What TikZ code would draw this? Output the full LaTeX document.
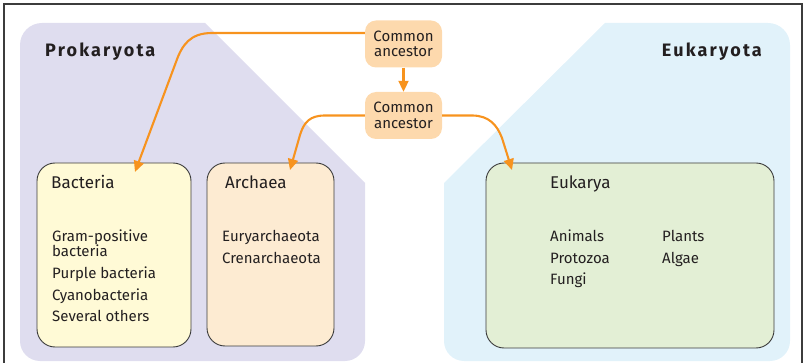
\documentclass[tikz,border=0pt]{standalone}
\usepackage{fontspec}
\setmainfont{Fira Sans}
\usetikzlibrary{arrows.meta}
\definecolor{purplebg}{HTML}{DFDDEF}
\definecolor{bluebg}{HTML}{E1F2FA}
\definecolor{bactfill}{HTML}{FFFAD6}
\definecolor{archfill}{HTML}{FDEBD2}
\definecolor{eukfill}{HTML}{E3EFD5}
\definecolor{ancfill}{HTML}{FDD9AD}
\definecolor{arrorange}{HTML}{F7931E}
\definecolor{txt}{HTML}{231F20}
\definecolor{framecol}{HTML}{3C3C3C}
\tikzset{
  groupbox/.style={draw=framecol, line width=0.9pt, rounded corners=18pt, inner sep=0pt},
  ancbox/.style={fill=ancfill, rounded corners=11pt, minimum width=77pt, minimum height=47pt, inner sep=0pt, align=center, font=\fontsize{15}{15.5}\selectfont, text=txt},
  boxtitle/.style={anchor=base west, inner sep=0pt, font=\fontsize{17}{17}\selectfont, text=txt},
  itemtext/.style={anchor=base west, inner sep=0pt, font=\fontsize{15}{15}\selectfont, text=txt},
  domtitle/.style={inner sep=0pt, text=txt, font=\fontsize{18}{18}\selectfont\bfseries\addfontfeatures{LetterSpace=12}},
  arr/.style={draw=arrorange, line width=2.1pt, -{Triangle[length=11pt,width=10pt]}},
}
\begin{document}
\begin{tikzpicture}[x=1pt,y=-1pt]
\useasboundingbox (0,0) rectangle (806,363);
% frame
\draw[framecol, line width=1.6pt] (4,370) -- (4,4) -- (802,4) -- (802,370);
% domain backgrounds
\fill[purplebg] (20,200) [rounded corners=22pt] -- (20,23) -- (110,23) [sharp corners] -- (205,23) -- (365,183) -- (365,280) [rounded corners=20pt] -- (365,361) -- (20,361) -- (20,200) -- cycle;
\fill[bluebg] (790,200) [rounded corners=22pt] -- (790,23) -- (700,23) [sharp corners] -- (605,23) -- (444,183) -- (444,280) [rounded corners=20pt] -- (444,361) -- (790,361) -- (790,200) -- cycle;
\node[domtitle, anchor=base west] (prok) at (45,57) {Prokaryota};
\node[domtitle, anchor=base east] (euk) at (762,57) {Eukaryota};
% group boxes
\node[groupbox, fill=bactfill, minimum width=154pt, minimum height=184pt] (bact) at (114,255) {};
\node[groupbox, fill=archfill, minimum width=127pt, minimum height=183pt] (arch) at (270.5,254.5) {};
\node[groupbox, fill=eukfill, minimum width=288pt, minimum height=185pt] (eukb) at (630,255.5) {};
% ancestors
\node[ancbox] (c1) at (403.5,44) {Common\\ancestor};
\node[ancbox] (c2) at (403.5,115.5) {Common\\ancestor};
% texts
\node[boxtitle] (tbact) at (51,189) {Bacteria};
\node[itemtext] (i1) at (52,242) {Gram-positive};
\node[itemtext] (i1b) at (52,257) {bacteria};
\node[itemtext] (i2) at (52,279) {Purple bacteria};
\node[itemtext] (i3) at (52,301) {Cyanobacteria};
\node[itemtext] (i4) at (52,322) {Several others};
\node[boxtitle] (tarch) at (225,189) {Archaea};
\node[itemtext] (a1) at (222,242) {Euryarchaeota};
\node[itemtext] (a2) at (222,264) {Crenarchaeota};
\node[boxtitle] (teuk) at (550,189) {Eukarya};
\node[itemtext] (e1) at (550,242) {Animals};
\node[itemtext] (e2) at (550,264) {Protozoa};
\node[itemtext] (e3) at (550,285) {Fungi};
\node[itemtext] (e4) at (662,242) {Plants};
\node[itemtext] (e5) at (662,264) {Algae};
% arrow ends
\coordinate (tipb) at (135,172);
\coordinate (tipa) at (290,170);
\coordinate (tipe) at (512,170);
% arrows
\draw[arr] ([yshift=11pt]c1.west) -- (212,33) .. controls (190,33) and (182,45) .. (176,62) -- (tipb);
\draw[arr] (c1.south) -- (c2.north);
\draw[arr] (c2.west) -- (325,115.5) .. controls (310,115.5) and (304,122) .. (300,135) -- (tipa);
\draw[arr] (c2.east) -- (472,115.5) .. controls (489,115.5) and (497,125) .. (502,138) -- (tipe);
\end{tikzpicture}
\end{document}
